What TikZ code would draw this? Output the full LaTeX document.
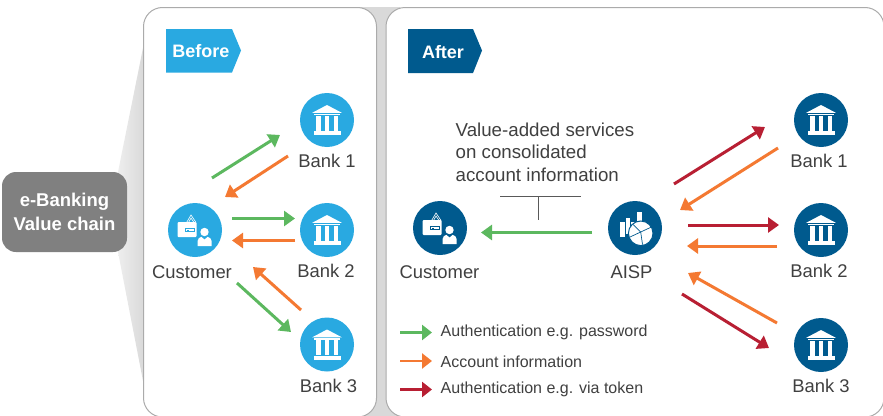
\documentclass[tikz,border=0pt]{standalone}
\usepackage{fontspec}
\setmainfont{Liberation Sans}
\usetikzlibrary{arrows.meta,shadings}
\definecolor{skyb}{HTML}{29A9E1}
\definecolor{deepb}{HTML}{005A8E}
\definecolor{gre}{HTML}{5CB85F}
\definecolor{ora}{HTML}{F47932}
\definecolor{redd}{HTML}{B81F33}
\definecolor{txt}{HTML}{404040}
\definecolor{band}{HTML}{D9D9D9}
\definecolor{edge}{HTML}{ABABAB}
\tikzset{
  x=1pt,y=-1pt,
  panel/.style={draw=edge,line width=1pt,fill=white,rounded corners=19pt},
  disc/.style={circle,minimum size=54pt,inner sep=0pt,fill=#1},
  lab/.style={text=txt,font=\fontsize{18.4}{22}\selectfont,inner sep=0pt},
  leg/.style={text=txt,font=\fontsize{16}{19}\selectfont,inner sep=0pt,anchor=west},
  tag/.style={text=white,font=\bfseries\fontsize{18}{22}\selectfont,inner sep=0pt},
  flow/.style={draw=#1,line width=3pt,-{Triangle[length=11pt,width=15pt,color=#1]}},
  legflow/.style={draw=#1,line width=2.6pt,-{Triangle[length=10pt,width=15pt,color=#1]}},
  pics/bankicon/.style={code={
    \fill[white] (-14.8,-7.2)--(0,-15)--(14.8,-7.2)--cycle;
    \fill[white] (-13,-6.5) rectangle (13,-4.8);
    \fill[white] (-11.2,-4.5) rectangle (-6.4,10.5);
    \fill[white] (-2.4,-4.5) rectangle (2.4,10.5);
    \fill[white] (6.6,-4.5) rectangle (11.4,10.5);
    \fill[white] (-13.5,11.3) rectangle (13.5,15);
  }},
  pics/custicon/.style={code={
    \draw[white,line width=.6pt] (-9,-6.5)--(-4,-15)--(1,-7.5);
    \draw[white,line width=.6pt] (-7,-6.5)--(-4,-12)--(-1,-7.5);
    \fill[white,rounded corners=1pt] (-17.5,-8) rectangle (1.5,7);
    \fill[#1] (-10.5,-2.2) rectangle (-.5,2.2);
    \fill[white] (-9.3,-1.2) rectangle (-1.5,1.2);
    \fill[#1] (-7.6,-.5) rectangle (-6.2,.7);
    \fill[white] (9.5,2) circle (4.2);
    \fill[white] (2.6,16)--(2.6,11).. controls (2.6,8.5) and (4.5,7.5) .. (6.5,6.8)--(9.5,9.7)--(12.5,6.8).. controls (14.5,7.5) and (16.6,8.5) .. (16.6,11)--(16.6,16)--cycle;
  }},
  pics/aispicon/.style={code={
    \fill[white] (-15,-6.5) rectangle (-10.2,9);
    \fill[white] (-9,-10) rectangle (-5,6);
    \fill[white] (2.2,-16.5) rectangle (7.2,-3);
    \fill[white] (-4,-6.5) rectangle (1,0);
    \fill[white,draw=#1,line width=1pt] (5.7,5.3) circle (12.3);
    \draw[#1,line width=.7pt] (5.7,4) -- (-2,-3.5) (5.7,4)--(16.5,-1) (5.7,4)--(7.5,16.5) (5.7,4)--(-5,9) ;
  }},
}
\begin{document}
\begin{tikzpicture}
\useasboundingbox (0,0) rectangle (883,415);
% funnel and band
\shade[shading angle=90,left color=white!55!band,right color=band] (118,172)--(144,43)--(144,386)--(118,252)--cycle;
\fill[band] (360,7)--(400,7)--(400,416)--(360,416)--cycle;
% panels
\draw[panel] (143.5,7.5) rectangle (376.5,417);
\draw[panel] (386,7.5) rectangle (884,417);
% source box
\node[fill=black!50,rounded corners=14pt,minimum width=125pt,minimum height=80pt,inner sep=0pt,
  text=white,font=\bfseries\fontsize{18.5}{24}\selectfont,align=center] (chain) at (64.5,212) {e-Banking\\Value chain};
% ribbons
\fill[skyb] (166,29)--(232,29)--(241,50.5)--(232,72.5)--(166,72.5)--cycle;
\node[tag] (before) at (201,51.5) {Before};
\fill[deepb] (408,29)--(473,29)--(482,50.5)--(473,73)--(408,73)--cycle;
\node[tag] (after) at (443,52) {After};
% before icons
\node[disc=skyb] (bA) at (327,120) {};
\node[disc=skyb] (bB) at (327,230) {};
\node[disc=skyb] (bC) at (327,344.5) {};
\node[disc=skyb] (bU) at (195,230) {};
\pic at (bA) {bankicon};
\pic at (bB) {bankicon};
\pic at (bC) {bankicon};
\pic at (bU) {custicon=skyb};
\node[lab] (lbA) at (327,161) {Bank 1};
\node[lab] (lbB) at (326,270.5) {Bank 2};
\node[lab] (lbC) at (328.5,386) {Bank 3};
\node[lab] (lbU) at (192,272) {Customer};
% after icons
\node[disc=deepb] (aA) at (821,120) {};
\node[disc=deepb] (aB) at (821,230) {};
\node[disc=deepb] (aC) at (821,345) {};
\node[disc=deepb] (aU) at (440,228) {};
\node[disc=deepb] (aS) at (635,228) {};
\pic at (aA) {bankicon};
\pic at (aB) {bankicon};
\pic at (aC) {bankicon};
\pic at (aU) {custicon=deepb};
\pic at (aS) {aispicon=deepb};
\node[lab] (laA) at (819,161) {Bank 1};
\node[lab] (laB) at (819,270.5) {Bank 2};
\node[lab] (laC) at (821,386) {Bank 3};
\node[lab] (laU) at (439.5,272) {Customer};
\node[lab] (laS) at (631.5,272) {AISP};
% annotation
\node[text=txt,font=\fontsize{18.7}{22.4}\selectfont,align=left,inner sep=0pt,anchor=north west] (note) at (455.5,122.5) {Value-added services\\on consolidated\\account information};
\coordinate (tL) at (500,196);
\coordinate (tR) at (581,196);
\coordinate (tM) at (538,196);
\coordinate (tD) at (538,220);
\draw[black!65,line width=1pt] (tL)--(tR);
\draw[black!65,line width=1pt] (tM)--(tD);
% before arrows
\coordinate (p1) at (212,178); \coordinate (p2) at (280,135);
\coordinate (p3) at (288,156); \coordinate (p4) at (225,197);
\coordinate (p5) at (232,218.5); \coordinate (p6) at (295,218.5);
\coordinate (p7) at (295,240.5); \coordinate (p8) at (232,240.5);
\coordinate (p9) at (301,310); \coordinate (p10) at (253,267);
\coordinate (p11) at (237,283); \coordinate (p12) at (291,332);
\draw[flow=gre] (p1)--(p2);
\draw[flow=ora] (p3)--(p4);
\draw[flow=gre] (p5)--(p6);
\draw[flow=ora] (p7)--(p8);
\draw[flow=ora] (p9)--(p10);
\draw[flow=gre] (p11)--(p12);
% after arrows
\coordinate (q1) at (674,184); \coordinate (q2) at (765,127);
\coordinate (q3) at (778,148); \coordinate (q4) at (680,210);
\coordinate (q5) at (688,225); \coordinate (q6) at (779,225);
\coordinate (q7) at (777,246); \coordinate (q8) at (687,246);
\coordinate (q9) at (777,323); \coordinate (q10) at (688,273);
\coordinate (q11) at (682,294); \coordinate (q12) at (769,348);
\coordinate (q13) at (592,232.5); \coordinate (q14) at (481,232.5);
\draw[flow=redd] (q1)--(q2);
\draw[flow=ora] (q3)--(q4);
\draw[flow=redd] (q5)--(q6);
\draw[flow=ora] (q7)--(q8);
\draw[flow=ora] (q9)--(q10);
\draw[flow=redd] (q11)--(q12);
\draw[flow=gre] (q13)--(q14);
% legend
\coordinate (g1) at (400,332.5); \coordinate (g2) at (432,332.5);
\coordinate (g3) at (400,361); \coordinate (g4) at (432,361);
\coordinate (g5) at (400,389.5); \coordinate (g6) at (432,389.5);
\draw[legflow=gre] (g1)--(g2);
\draw[legflow=ora] (g3)--(g4);
\draw[legflow=redd] (g5)--(g6);
\node[leg] (l1) at (440.5,332.5) {Authentication e.g. password};
\node[leg] (l2) at (440.5,361.5) {Account information};
\node[leg] (l3) at (440.5,389.5) {Authentication e.g. via token};
\end{tikzpicture}
\end{document}
